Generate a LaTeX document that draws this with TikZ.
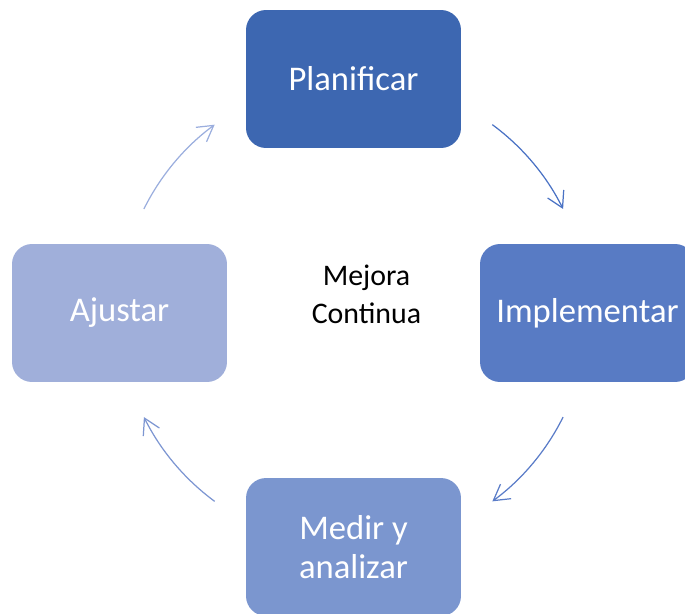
\documentclass[tikz,border=0pt]{standalone}
\usepackage{fontspec}
\setmainfont{Carlito}
\usetikzlibrary{arrows.meta}
\tikzstyle{cycle} = [x = 0.02cm, y = 0.02cm]
\definecolor{planColor}{HTML}{3D67B1}
\definecolor{implColor}{HTML}{587BC4}
\definecolor{medirColor}{HTML}{7B96CF}
\definecolor{ajusColor}{HTML}{A0AFDA}
\definecolor{arrowOne}{HTML}{4A72C4}
\definecolor{arrowTwo}{HTML}{5A7CC8}
\definecolor{arrowThree}{HTML}{7D96D2}
\definecolor{arrowFour}{HTML}{9BAEDE}
\tikzstyle{stepStyle} = [rounded corners = .4cm, minimum width = 4.3cm, minimum height = 2.76cm, inner sep = 0pt, text = white, align = center, font = \fontsize{19.7}{22.1}\selectfont]
\tikzstyle{arrowStyle} = [line width = .7pt, -{Straight Barb[length = .31cm, width = .36cm]}]
\tikzstyle{centerText} = [align = center, font = \fontsize{17}{21.5}\selectfont]
\newcommand{\cycleRadius}{234}
\newcommand{\stepBox}[4]{\node [stepStyle, fill = #3] (#1) at (#2:\cycleRadius) {#4};}
\newcommand{\cycleArrow}[3]{\draw [arrowStyle, color = #3] (center) ++(#1:\cycleRadius) arc (#1:#2:\cycleRadius);}

\begin{document}
\begin{tikzpicture}[cycle]
        \useasboundingbox (-353.5,-300) rectangle (331.5,313);
        \clip (-353.5,-300) rectangle (331.5,313);
        \coordinate (center) at (0,0);

        \stepBox{planificar}{90}{planColor}{Planificar}
        \stepBox{implementar}{0}{implColor}{Implementar}
        \stepBox{medir}{-90}{medirColor}{Medir y\\analizar}
        \stepBox{ajustar}{180}{ajusColor}{Ajustar}

        \node [centerText] (mejora) at (13,19) {Mejora\\Continua};

        \cycleArrow{53.6}{26.4}{arrowOne}
        \cycleArrow{-26.4}{-53.6}{arrowTwo}
        \cycleArrow{-126.4}{-153.6}{arrowThree}
        \cycleArrow{153.6}{126.4}{arrowFour}
      \end{tikzpicture}
\end{document}
